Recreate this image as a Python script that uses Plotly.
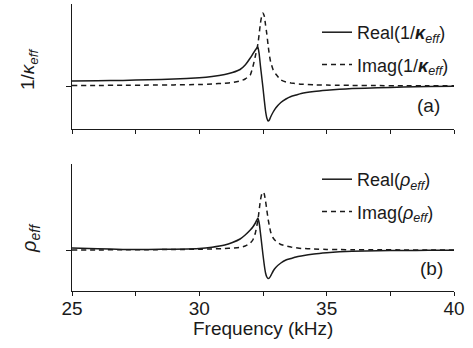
import plotly.graph_objects as go

# ---- data (arbitrary units, zero = axis tick) ----
freq = [25, 26, 27, 28, 29, 30, 30.5, 31, 31.3, 31.6, 31.8, 32.0, 32.1, 32.2,
        32.3, 32.35, 32.4, 32.45, 32.5, 32.55, 32.6, 32.65, 32.7, 32.75, 32.8,
        32.9, 33.0, 33.2, 33.4, 33.6, 33.8, 34.0, 34.5, 35, 35.5, 36, 37, 38,
        39, 40]

kappa_real = [5, 5.2, 5.6, 6.2, 7, 8.3, 9.5, 11.5, 13.5, 16.5, 21, 28, 32, 36,
              39, 32, 20, 9, -2, -14, -25, -32, -35, -34, -31,
              -26, -22, -16.5, -13, -10.5, -9, -7.5, -5.5, -4.2, -3.3, -2.6,
              -1.7, -1.1, -0.6, -0.3]

kappa_imag = [0.5, 0.6, 0.7, 0.9, 1.1, 1.5, 2, 2.8, 3.5, 5, 7, 11, 19, 30,
              42, 52, 63, 70, 73, 70, 61, 52, 41, 31, 24,
              16, 12, 6, 4, 3, 2.3, 1.8, 1.2, 0.9, 0.7, 0.6,
              0.4, 0.3, 0.2, 0.2]

rho_real = [2, 1.2, 0.6, 0.5, 0.8, 1.5, 2.8, 5, 7.5, 11, 15, 20, 23, 27,
            32, 27, 17, 6, -5, -15, -23, -27, -28.5, -28, -26,
            -21, -17.5, -13, -10, -8.5, -7, -6, -4, -2.7, -1.8, -1.3,
            -0.7, -0.5, -0.3, -0.2]

rho_imag = [0, 0.1, 0.2, 0.3, 0.5, 0.8, 1, 1.5, 2, 2.5, 4, 7, 10, 17,
            30, 40, 50, 56, 58, 56, 49, 40, 31, 24, 18,
            12, 9, 5.5, 4, 3, 2.2, 1.6, 1, 0.6, 0.4, 0.3,
            0.2, 0.1, 0.1, 0]

x_major_ticks = [25, 30, 35, 40]
x_tick_labels = ["25", "30", "35", "40"]

FONT = "Arial, Liberation Sans, sans-serif"
INK = "#1a1a1a"

fig = go.Figure()

def add(y, name, dash, xa, ya, leg, grp):
    fig.add_trace(go.Scatter(
        x=freq, y=y, mode="lines", name=name,
        line=dict(color=INK, width=1.5, dash=dash, shape="spline", smoothing=0.4),
        xaxis=xa, yaxis=ya, legend=leg, legendgroup=grp, showlegend=True,
    ))

add(kappa_real, "Real(1/<b><i>κ</i></b><sub><i>eff</i></sub>)", "solid", "x", "y", "legend", "k1")
add(kappa_imag, "Imag(1/<b><i>κ</i></b><sub><i>eff</i></sub>)", "5px,4px", "x", "y", "legend", "k2")
add(rho_real, "Real(<i>ρ</i><sub><i>eff</i></sub>)", "solid", "x2", "y2", "legend2", "r1")
add(rho_imag, "Imag(<i>ρ</i><sub><i>eff</i></sub>)", "5px,4px", "x2", "y2", "legend2", "r2")

axis_common = dict(showline=True, linecolor=INK, linewidth=1.2, showgrid=False,
                   zeroline=False, ticks="outside", tickcolor=INK, ticklen=4,
                   tickwidth=1)
minor_x = dict(dtick=2.5, tick0=25, ticks="outside", ticklen=4,
               tickcolor=INK, tickwidth=1, showgrid=False)

W, H = 473, 348
ml, mr, mt, mb = 72, 19, 4, 57
ph = H - mt - mb
pw = W - ml - mr

def py(px):
    return (H - mb - px) / ph

def pxx(px):
    return (px - ml) / pw

fig.update_layout(
    width=W, height=H,
    margin=dict(l=ml, r=mr, t=mt, b=mb),
    paper_bgcolor="white", plot_bgcolor="white",
    font=dict(family=FONT, size=19, color=INK),
    showlegend=True,
    xaxis=dict(axis_common, domain=[0, 1], anchor="y", range=[25, 40],
               tickvals=x_major_ticks, ticktext=x_tick_labels,
               showticklabels=False, minor=minor_x),
    yaxis=dict(axis_common, domain=[py(129), 1], anchor="x", range=[-43, 82],
               tickvals=[0], showticklabels=False, ticklen=5),
    xaxis2=dict(axis_common, domain=[0, 1], anchor="y2", range=[25, 40],
                matches="x", tickvals=x_major_ticks, ticktext=x_tick_labels,
                minor=minor_x, tickfont=dict(size=19), ticklabelstandoff=-4),
    yaxis2=dict(axis_common, domain=[0, py(164)], anchor="x2", range=[-41, 86],
                tickvals=[0], showticklabels=False, ticklen=5),
    legend=dict(x=pxx(317), y=py(14), xanchor="left", yanchor="top",
                bgcolor="rgba(0,0,0,0)", font=dict(size=18),
                tracegroupgap=6, itemwidth=30),
    legend2=dict(x=pxx(317), y=py(161), xanchor="left", yanchor="top",
                 bgcolor="rgba(0,0,0,0)", font=dict(size=18),
                 tracegroupgap=6, itemwidth=30),
    annotations=[
        dict(text="(a)", x=pxx(428), y=py(106), xref="paper", yref="paper",
             xanchor="center", yanchor="middle",
             showarrow=False, font=dict(size=19)),
        dict(text="(b)", x=pxx(431), y=py(268), xref="paper", yref="paper",
             xanchor="center", yanchor="middle",
             showarrow=False, font=dict(size=19)),
        dict(text="1/<i>κ</i><sub><i>eff</i></sub>", x=pxx(29), y=py(70),
             xref="paper", yref="paper", showarrow=False, textangle=-90,
             xanchor="center", yanchor="middle", font=dict(size=19)),
        dict(text="<i>ρ</i><sub><i>eff</i></sub>", x=pxx(30), y=py(238),
             xref="paper", yref="paper", showarrow=False, textangle=-90,
             xanchor="center", yanchor="middle", font=dict(size=20)),
        dict(text="Frequency (kHz)", x=0.5, y=py(328), xref="paper", yref="paper",
             showarrow=False, xanchor="center", yanchor="middle",
             font=dict(size=19)),
    ],
)

fig.write_html("out.html", config={"displayModeBar": False},
               post_script="document.body.style.margin='0';document.body.style.overflow='hidden';")
